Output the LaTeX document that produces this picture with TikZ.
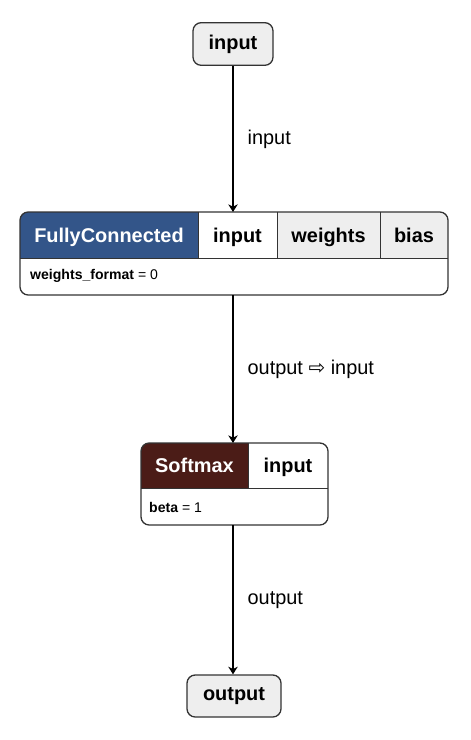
\documentclass[tikz,border=0pt]{standalone}
\usepackage{fontspec}
\setmainfont{Liberation Sans}
\newfontfamily\arrowfont{DejaVu Sans}
\usetikzlibrary{positioning,arrows.meta}

\definecolor{fcblue}{HTML}{335589}
\definecolor{smred}{HTML}{4B1C17}
\definecolor{cellgray}{HTML}{EEEEEE}
\definecolor{boxgray}{HTML}{333333}

\begin{document}
\begin{tikzpicture}[%
    x=0.03cm, y=-0.03cm,
    >={Stealth[length=6.5pt, width=8pt, inset=2pt]},
    big/.style={font=\fontsize{17}{20}\selectfont},
    small/.style={font=\fontsize{12}{14}\selectfont},
    term/.style={draw=boxgray, line width=1.1pt, rounded corners=7pt,
                 fill=cellgray, big, minimum height=1.28cm},
    head/.style={big, inner sep=0pt, anchor=base},
    attr/.style={small, inner sep=0pt, anchor=west},
    boxline/.style={draw=boxgray, line width=1.1pt, rounded corners=7pt},
    cellline/.style={draw=boxgray, line width=0.8pt},
    flow/.style={->, line width=1.1pt},
    lbl/.style={big, inner sep=0pt, anchor=west, right=0.42cm}
  ]
    \useasboundingbox (0,0) rectangle (470,740);

    % graph input
    \node[term, minimum width=2.4cm] (in) at (233,44) {\textbf{input}};

    % FullyConnected
    \node[minimum width=12.84cm, minimum height=2.49cm, inner sep=0pt,
          anchor=north west] (fc) at (20,212) {};
    \begin{scope}
      \clip[rounded corners=7pt] (20,212) rectangle (448,295);
      \fill[fcblue] (20,212) rectangle (198,258);
      \fill[white] (198,212) rectangle (277,258);
      \fill[cellgray] (277,212) rectangle (448,258);
      \fill[white] (20,258) rectangle (448,295);
    \end{scope}
    \draw[cellline] (20,258) -- (448,258)
                    (198,212) -- (198,258)
                    (277,212) -- (277,258)
                    (380,212) -- (380,258);
    \draw[boxline] (20,212) rectangle (448,295);
    \node[head, text=white] (fcname) at (109,243) {\textbf{FullyConnected}};
    \node[head] (fcin) at (237.5,243) {\textbf{input}};
    \node[head] (fcw) at (328.5,243) {\textbf{weights}};
    \node[head] (fcb) at (414,243) {\textbf{bias}};
    \node[attr] (fcattr) at (30,276) {\textbf{weights\_format} = 0};

    % Softmax
    \node[minimum width=5.61cm, minimum height=2.46cm, inner sep=0pt,
          anchor=north west] (sm) at (141,443) {};
    \begin{scope}
      \clip[rounded corners=7pt] (141,443) rectangle (328,525);
      \fill[smred] (141,443) rectangle (248,488);
      \fill[white] (248,443) rectangle (328,488);
      \fill[white] (141,488) rectangle (328,525);
    \end{scope}
    \draw[cellline] (141,488) -- (328,488)
                    (248,443) -- (248,488);
    \draw[boxline] (141,443) rectangle (328,525);
    \node[head, text=white] (smname) at (194.5,472) {\textbf{Softmax}};
    \node[head] (smin) at (288,472) {\textbf{input}};
    \node[attr] (smattr) at (149,507) {\textbf{beta} = 1};

    % graph output
    \node[term, minimum width=2.82cm, minimum height=1.26cm] (out) at (234,696) {\textbf{output}};

    % connectors
    \draw[flow] (in) -- (in |- fc.north)
      node[lbl, midway] {input};
    \draw[flow] (fc.south -| in) -- (sm.north -| in)
      node[lbl, midway] {output {\arrowfont ⇨} input};
    \draw[flow] (sm.south -| in) -- (out.north -| in)
      node[lbl, midway] {output};
\end{tikzpicture}
\end{document}
